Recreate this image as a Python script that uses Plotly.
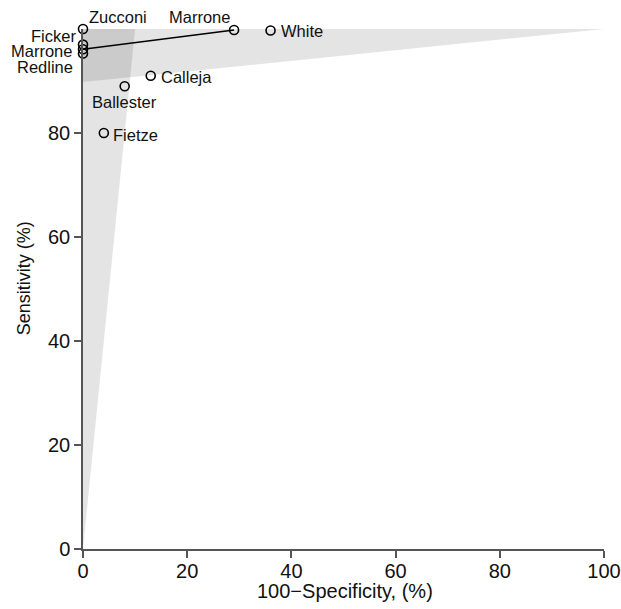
import plotly.graph_objects as go

# Study points: 100-specificity (%) and sensitivity (%)
studies = ["Zucconi", "Ficker", "Marrone", "Redline", "Marrone", "White", "Calleja", "Ballester", "Fietze"]
fpr = [0, 0, 0, 0, 29, 36, 13, 8, 4]
sens = [100, 97, 96.1, 95.3, 99.8, 99.7, 91, 89, 80]

# Linked Marrone pair
link_x = [0, 29]
link_y = [96.1, 99.8]

# Shaded regions (triangular bands)
band_h_x = [0, 100, 0, 0]
band_h_y = [100, 100, 89.8, 100]
band_v_x = [0, 0, 10, 0]
band_v_y = [0, 100, 100, 0]

x_ticks = [0, 20, 40, 60, 80, 100]
y_ticks = [0, 20, 40, 60, 80]
x_title = "100\u2212Specificity, (%)"
y_title = "Sensitivity (%)"

FONT = "Liberation Sans, Arial, Helvetica, sans-serif"
AX = "#555555"
TXT = "#111111"

fig = go.Figure()
for bx, by in [(band_h_x, band_h_y), (band_v_x, band_v_y)]:
    fig.add_trace(go.Scatter(x=bx, y=by, mode="lines", fill="toself",
                             fillcolor="rgba(0,0,0,0.105)", line=dict(width=0),
                             hoverinfo="skip", showlegend=False))

fig.add_trace(go.Scatter(x=link_x, y=link_y, mode="lines",
                         line=dict(color="black", width=1.6),
                         showlegend=False, cliponaxis=False))

fig.add_trace(go.Scatter(x=fpr, y=sens, mode="markers",
                         marker=dict(symbol="circle-open", size=9, color="black",
                                     line=dict(width=1.6, color="black")),
                         text=studies, showlegend=False, cliponaxis=False))

# label placement (pixel offsets)
label_style = [
    ("left", 4, 12),     # Zucconi
    ("right", -5, 9),    # Ficker
    ("right", -9, -2),   # Marrone
    ("right", -8, -14),  # Redline
    ("right", -2, 13),   # Marrone
    ("left", 8, 0),      # White
    ("left", 8, -1),     # Calleja
    ("center", 0, -16),  # Ballester
    ("left", 7, -1.5),   # Fietze
]
for name, x, y, (anc, xs, ys) in zip(studies, fpr, sens, label_style):
    fig.add_annotation(x=x, y=y, text=name, showarrow=False, xanchor=anc,
                       yanchor="middle", xshift=xs, yshift=ys,
                       font=dict(size=16.5, color=TXT, family=FONT))

# axis titles
fig.add_annotation(xref="paper", yref="paper", x=0.503, y=-0.081, text=x_title,
                   showarrow=False, xanchor="center", yanchor="middle",
                   font=dict(size=20, color=TXT, family=FONT))
fig.add_annotation(xref="paper", yref="paper", x=-0.113, y=0.521, text=y_title,
                   showarrow=False, xanchor="center", yanchor="middle", textangle=-90,
                   font=dict(size=18, color=TXT, family=FONT))

fig.update_xaxes(range=[0, 100], tickvals=x_ticks, showgrid=False, zeroline=False,
                 showline=True, linecolor=AX, linewidth=1.5, ticks="outside",
                 ticklen=7, tickwidth=1.5, tickcolor=AX, automargin=False,
                 ticklabelstandoff=-4,
                 tickfont=dict(size=20, color=TXT, family=FONT))
fig.update_yaxes(range=[0, 100], tickvals=y_ticks, showgrid=False, zeroline=False,
                 showline=True, linecolor=AX, linewidth=1.5, ticks="outside",
                 ticklen=7, tickwidth=1.5, tickcolor=AX, automargin=False,
                 tickfont=dict(size=20, color=TXT, family=FONT))

fig.update_layout(width=621, height=609, margin=dict(l=83, r=17, t=29, b=60),
                  plot_bgcolor="white", paper_bgcolor="white",
                  font=dict(family=FONT))

fig.write_html("out.html", config={"displayModeBar": False},
               post_script="document.body.style.margin='0';document.body.style.overflow='hidden';")
